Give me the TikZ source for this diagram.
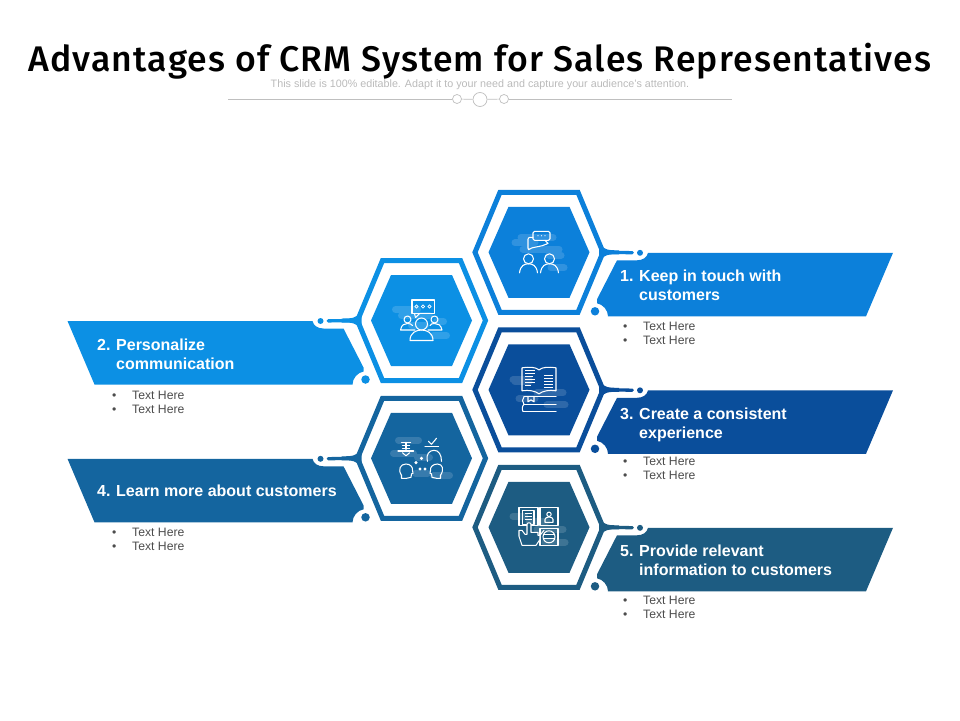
\documentclass[tikz,border=0pt]{standalone}
\usepackage{fontspec}
\setmainfont{Liberation Sans}
\newfontfamily\titlefont[LetterSpace=3.2]{Fira Sans Medium}
\usetikzlibrary{calc}

\definecolor{blueA}{HTML}{0C80DA}
\definecolor{blueB}{HTML}{0C90E4}
\definecolor{blueC}{HTML}{0A4E9B}
\definecolor{blueD}{HTML}{14659F}
\definecolor{blueE}{HTML}{1D5C82}

\tikzset{
  hexring/.style={line width=5pt,miter limit=10},
  linkline/.style={line width=3.3pt,line cap=round,shorten >=4.5pt},
  dotnode/.style={shape=circle,inner sep=0pt,minimum size=6pt},
  bigdot/.style={shape=circle,inner sep=0pt,minimum size=8.5pt},
  headline/.style={font=\bfseries\fontsize{16}{19}\selectfont,text=white,anchor=west,align=left,inner sep=0pt},
  subline/.style={font=\fontsize{12.2}{14}\selectfont,text=black!70,anchor=west,align=left,inner sep=0pt},
  iconline/.style={draw=white,line width=1.05pt,line join=round,line cap=round},
  blob/.style={draw=white,draw opacity=0.15,line width=7pt,line cap=round},
  rulecirc/.style={shape=circle,draw=black!25,fill=white,inner sep=0pt,line width=0.7pt},
}

% hexagon with its ribbon: name, x, y, colour, direction
\newcommand{\hexband}[5]{
  \begin{scope}[shift={(#2,#3)},xscale=#5]
    \fill[#4] (-50.5,0) -- (-30.5,-45.5) -- (30.5,-45.5) -- (50.5,0) -- (30.5,45.5) -- (-30.5,45.5) -- cycle;
    \draw[#4,hexring] (-64,0) -- (-39,-60) -- (39,-60) -- (64,0) -- (39,60) -- (-39,60) -- cycle;
    \fill[#4] (60,-9) .. controls (65,-2) and (70,-2) .. (80,-2) -- (80,2) .. controls (70,2) and (65,2) .. (60,9) -- cycle;
    \coordinate (#1v) at (66,0);
    \node[dotnode,fill=#4] (#1d) at (101,0.5) {};
    \node[bigdot,fill=#4] (#1b) at (56,59) {};
    \draw[#4,linkline] (#1v) -- (#1d);
    \fill[#4] (78,8) -- (98,8) .. controls (104,8) and (108,5) .. (109,0.5) -- (354,0.5) -- (327,64) -- (69,64)
      .. controls (69,58) and (64,52) .. (58,51) -- (58,47) -- cycle;
  \end{scope}
}

\begin{document}
\begin{tikzpicture}[x=1pt,y=-1pt]
  \useasboundingbox (0,0) rectangle (960,720);

  \node[font=\titlefont\fontsize{35.6}{40}\selectfont,text=black,inner sep=0pt] (title) at (480,61) {Advantages of CRM System for Sales Representatives};
  \node[font=\fontsize{10.75}{13}\selectfont,text=black!27,inner sep=0pt] (subtitle) at (480,85) {This slide is 100\% editable.  Adapt it to your need and capture your audience's attention.};

  \node[rulecirc,minimum size=9pt] (ca) at (457,99) {};
  \node[rulecirc,minimum size=14pt] (cb) at (480,99.5) {};
  \node[rulecirc,minimum size=9pt] (cc) at (504,99) {};
  \coordinate (ruleL) at (228,99);
  \coordinate (ruleR) at (732,99);
  \path[draw=black!25,line width=0.7pt] (ruleL) edge (ca) (ca) edge (cb) (cb) edge (cc) (cc) edge (ruleR);

  \hexband{one}{539}{252.3}{blueA}{1}
  \hexband{two}{421.5}{320.5}{blueB}{-1}
  \hexband{three}{539}{389.8}{blueC}{1}
  \hexband{four}{421.5}{458.3}{blueD}{-1}
  \hexband{five}{539}{527.3}{blueE}{1}

  \node[headline] (lab1) at (620,285) {\makebox[19pt][l]{1.}Keep in touch with\\\hspace*{19pt}customers};
  \node[headline] (lab2) at (97,354) {\makebox[19pt][l]{2.}Personalize\\\hspace*{19pt}communication};
  \node[headline] (lab3) at (620,425) {\makebox[19pt][l]{3.}Create a consistent\\\hspace*{19pt}experience};
  \node[headline] (lab4) at (97,491) {\makebox[19pt][l]{4.}Learn more about customers};
  \node[headline] (lab5) at (620,560) {\makebox[19pt][l]{5.}Provide relevant\\\hspace*{19pt}information to customers};

  \node[subline] (sub1) at (623,333) {\makebox[20pt][l]{•}Text Here\\\makebox[20pt][l]{•}Text Here};
  \node[subline] (sub2) at (112,402) {\makebox[20pt][l]{•}Text Here\\\makebox[20pt][l]{•}Text Here};
  \node[subline] (sub3) at (623,468.5) {\makebox[20pt][l]{•}Text Here\\\makebox[20pt][l]{•}Text Here};
  \node[subline] (sub4) at (112,539) {\makebox[20pt][l]{•}Text Here\\\makebox[20pt][l]{•}Text Here};
  \node[subline] (sub5) at (623,607) {\makebox[20pt][l]{•}Text Here\\\makebox[20pt][l]{•}Text Here};

  % people and chat
  \begin{scope}[shift={(539,252.3)}]
    \draw[blob] (-18,-15) -- (14,-15) (-24,-9.5) -- (-4,-9.5) (-16,-3) -- (20,-3) (10,3) -- (22,3) (12,15.5) -- (25,15.5);
    \draw[iconline,rounded corners=1.5pt] (-6,-21) rectangle (11,-12);
    \draw[iconline] (6,-12) -- (9,-9);
    \draw[iconline,rounded corners=2pt] (-6,-15) -- (-11,-15) -- (-11,-2) -- (-9,-4) -- (5,-7) -- (9,-9);
    \foreach \xa in {-1,2.5,6} \fill[white] (\xa,-16.5) circle (0.6);
    \foreach \xa in {-10.5,10.5} {
      \draw[iconline] (\xa,6.5) circle (5);
      \draw[iconline] (\xa-9,20.5) .. controls (\xa-8,13) and (\xa-4,11.5) .. (\xa,11.5) .. controls (\xa+4,11.5) and (\xa+8,13) .. (\xa+9,20.5);
    }
  \end{scope}

  % group and speech box
  \begin{scope}[shift={(421.5,320.5)}]
    \draw[blob] (-26,-11) -- (-4,-11) (-20,-5) -- (8,-5) (15,1) -- (22,1) (-10,5) -- (4,5) (12,15) -- (25,15);
    \draw[iconline] (-9.5,-20.5) rectangle (13,-7);
    \draw[iconline] (-7,-7) -- (-6,-3) -- (-2,-7);
    \foreach \xa in {-5,1.5,8} \draw[white,line width=0.7pt] (\xa,-14) circle (1.6);
    \draw[iconline] (0,3.5) circle (6);
    \draw[iconline] (-11.5,20) .. controls (-11.5,12) and (-5,9.5) .. (0,9.5) .. controls (5,9.5) and (11.5,12) .. (11.5,20) -- cycle;
    \draw[iconline] (-14,-1) circle (3.5);
    \draw[iconline] (-6.5,9.5) -- (-21,9.5) .. controls (-20,4) and (-17,3) .. (-14,3) .. controls (-12,3) and (-10,3.5) .. (-9,5);
    \draw[iconline] (13,-1) circle (3.5);
    \draw[iconline] (6.5,9.5) -- (20.5,9.5) .. controls (19.5,4) and (16,3) .. (13,3) .. controls (11,3) and (9,3.5) .. (8.5,5);
  \end{scope}

  % book stack
  \begin{scope}[shift={(539,389.8)}]
    \draw[blob] (-26,-10) -- (-10,-10) (-24,-8) -- (-10,-8) (-2,3) -- (24,3) (-20,9) -- (-4,9) (8,15) -- (26,15);
    \draw[iconline] (0,-20) .. controls (-4,-23) and (-10,-23) .. (-17,-22) -- (-17,1) .. controls (-10,0) and (-4,1) .. (0,4)
      .. controls (4,1) and (10,0) .. (17,1) -- (17,-22) .. controls (10,-23) and (4,-23) .. (0,-20) -- cycle;
    \foreach \ya/\xb in {-19/-4,-16/-4,-13/-6,-10/-4,-7/-4,-4/-8} \draw[white,line width=1pt] (-14,\ya) -- (\xb,\ya);
    \foreach \ya in {-14,-11,-8,-5,-2} \draw[white,line width=1pt] (5,\ya) -- (14,\ya);
    \draw[iconline] (-15,7) -- (17,7) (-15,14.5) -- (17,14.5) (-16,21.5) -- (17,21.5);
    \draw[iconline] (-15,7) .. controls (-17,9) and (-17,12.5) .. (-15,14.5) .. controls (-17,16) and (-17,20) .. (-16,21.5);
    \draw[iconline] (-11,7) -- (-11,12) -- (-8,10) -- (-5,12) -- (-5,7);
  \end{scope}

  % heads with notes
  \begin{scope}[shift={(421.5,458.3)}]
    \draw[blob] (-23,-18) -- (-3,-18) (-28,-5) -- (-8,-5) (-4,-1) -- (8,-1) (12,17) -- (28,17) (-6,15) -- (6,15);
    \draw[iconline] (-23.5,-7.3) -- (-8,-7.3);
    \draw[iconline] (-20,-16) -- (-11,-16) (-15.5,-16) -- (-15.5,-9) (-19,-13) -- (-12,-13) (-19,-10) -- (-12,-10);
    \draw[iconline] (-19,-5.5) -- (-15.5,-2.5) -- (-12,-5.5);
    \draw[iconline] (3.5,-11.7) -- (17,-11.7);
    \draw[iconline] (7,-17) -- (10,-14) -- (15,-20);
    \draw[iconline] (6,3) .. controls (4,-4) and (8,-8) .. (12.5,-8) .. controls (17,-8) and (20,-4) .. (20,3);
    \draw[iconline] (-20,17) .. controls (-24,11) and (-21,5.7) .. (-15.5,5.7) .. controls (-11,5.7) and (-8.5,9) .. (-9,12) -- (-8.5,15) -- (-10,15.5) -- (-10.5,19) -- (-15,20) -- (-20,20) -- cycle;
    \draw[iconline] (19,17) .. controls (23,11) and (21,5.7) .. (16,5.7) .. controls (11,5.7) and (8.5,9) .. (9,12) -- (8.5,15) -- (10,15.5) -- (10.5,19) -- (15,20) -- (19,20) -- cycle;
    \fill[white] (-5.5,4.3) circle (1.7);
    \fill[white] (0,0) circle (1.7);
    \fill[white] (-1.5,10.7) circle (1.6);
    \fill[white] (3.5,10.7) circle (1.6);
  \end{scope}

  % cards and hand
  \begin{scope}[shift={(539,527.3)}]
    \draw[blob] (-26,-11) -- (-14,-11) (-2,2) -- (24,2) (-10,-6) -- (8,-6) (6,15) -- (26,15);
    \draw[iconline] (-20,-20) rectangle (-1,-2);
    \draw[iconline] (1,-20) rectangle (19,-2);
    \draw[iconline] (1,1) rectangle (19,18);
    \draw[iconline] (-16.5,-17) rectangle (-5,-3);
    \foreach \ya in {-14,-11,-8} \draw[white,line width=1pt] (-14,\ya) -- (-7,\ya);
    \draw[iconline] (10,-13) circle (2.2);
    \draw[iconline] (6,-5) -- (6,-8) .. controls (6,-11) and (14,-11) .. (14,-8) -- (14,-5) -- cycle;
    \draw[iconline] (10,9.5) circle (6);
    \draw[iconline] (4.5,7.5) -- (15.5,7.5) (4.5,11.5) -- (15.5,11.5);
    \draw[iconline,fill=blueE] (-8,-3) -- (-8,5) -- (-5,5) -- (-1,5) -- (-1,8) -- (1,8) -- (1,12) -- (-3,18) -- (-17,18) -- (-20,9) -- (-20,3) -- (-17,3) -- (-14,7) -- (-12,7) -- (-12,-3) .. controls (-12,-5) and (-8,-5) .. (-8,-3) -- cycle;
    \draw[iconline] (1,8) -- (5,3);
  \end{scope}
\end{tikzpicture}
\end{document}
